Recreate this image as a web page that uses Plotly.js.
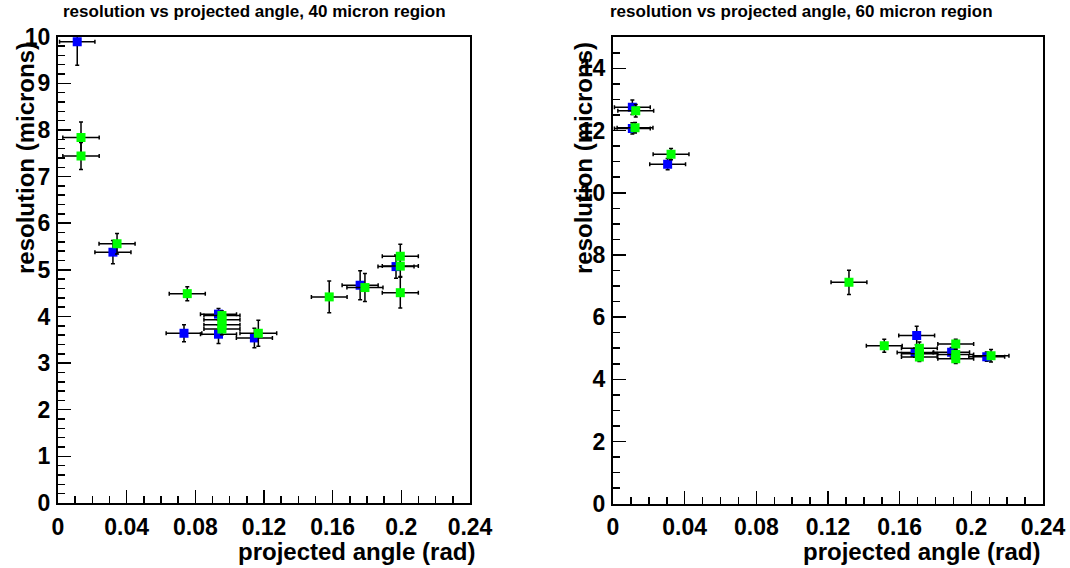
<!DOCTYPE html>
<html>
<head>
<meta charset="utf-8">
<script src="https://cdn.plot.ly/plotly-3.0.1.min.js"></script>
<style>html,body{margin:0;padding:0;background:#fff;}#chart{width:1070px;height:568px;}</style>
</head>
<body>
<div id="chart"></div>
<script>
// ---- data: left panel (40 micron region) ----
var leftBlueX  = [0.0112, 0.032, 0.0734, 0.0935, 0.0935, 0.1144, 0.176, 0.1969];
var leftBlueY  = [9.89, 5.38, 3.64, 4.05, 3.62, 3.54, 4.67, 5.07];
var leftBlueEX = [0.0103, 0.0105, 0.0104, 0.0105, 0.0105, 0.0105, 0.0105, 0.0105];
var leftBlueEY = [0.5, 0.25, 0.18, 0.12, 0.2, 0.21, 0.31, 0.25];

var leftGreenX  = [0.0134, 0.0134, 0.0344, 0.0753, 0.0955, 0.0955, 0.0955, 0.0955, 0.1167, 0.158, 0.1788, 0.1994, 0.1994, 0.1994];
var leftGreenY  = [7.84, 7.44, 5.56, 4.49, 4.02, 3.93, 3.82, 3.73, 3.64, 4.42, 4.62, 5.29, 5.08, 4.51];
var leftGreenEX = [0.0106, 0.0106, 0.0105, 0.0105, 0.0105, 0.0105, 0.0105, 0.0105, 0.0107, 0.0104, 0.0105, 0.0105, 0.0105, 0.0105];
var leftGreenEY = [0.33, 0.29, 0.22, 0.15, 0.1, 0.1, 0.1, 0.12, 0.28, 0.34, 0.3, 0.26, 0.22, 0.33];

// ---- data: right panel (60 micron region) ----
var rightBlueX  = [0.0108, 0.0108, 0.0305, 0.1695, 0.1686, 0.189, 0.2086];
var rightBlueY  = [12.75, 12.07, 10.92, 5.41, 4.86, 4.87, 4.73];
var rightBlueEX = [0.01, 0.01, 0.01, 0.01, 0.01, 0.01, 0.01];
var rightBlueEY = [0.23, 0.18, 0.18, 0.3, 0.15, 0.15, 0.15];

var rightGreenX  = [0.0127, 0.0123, 0.0324, 0.1317, 0.1514, 0.171, 0.171, 0.171, 0.1913, 0.1913, 0.1913, 0.211];
var rightGreenY  = [12.64, 12.09, 11.24, 7.12, 5.08, 5.0, 4.82, 4.72, 5.14, 4.8, 4.66, 4.76];
var rightGreenEX = [0.01, 0.01, 0.01, 0.01, 0.01, 0.01, 0.01, 0.01, 0.01, 0.01, 0.01, 0.01];
var rightGreenEY = [0.2, 0.17, 0.18, 0.39, 0.21, 0.2, 0.15, 0.15, 0.15, 0.15, 0.15, 0.2];

// ---- tick labels ----
var xTickVals = [0, 0.04, 0.08, 0.12, 0.16, 0.2, 0.24];
var xTickText = ["0", "0.04", "0.08", "0.12", "0.16", "0.2", "0.24"];
var leftYTickVals = [0,1,2,3,4,5,6,7,8,9,10];
var leftYTickText = ["0","1","2","3","4","5","6","7","8","9","10"];
var rightYTickVals = [0,2,4,6,8,10,12,14];
var rightYTickText = ["0","2","4","6","8","10","12","14"];

var titles = ["resolution vs projected angle, 40 micron region", "resolution vs projected angle, 60 micron region"];
var xTitle = "projected angle (rad)";
var yTitle = "resolution (microns)";

var FONT = "Liberation Sans, Arial, Helvetica, sans-serif";

function trace(x, y, ex, ey, color, xa, ya) {
  return {
    type: "scatter", mode: "markers", x: x, y: y,
    xaxis: xa, yaxis: ya,
    marker: {symbol: "square", size: 9, color: color},
    error_x: {type: "data", array: ex, visible: true, color: "#000", thickness: 1.5, width: 2},
    error_y: {type: "data", array: ey, visible: true, color: "#000", thickness: 1.5, width: 2},
    showlegend: false, cliponaxis: true
  };
}

var data = [
  trace(leftBlueX, leftBlueY, leftBlueEX, leftBlueEY, "#0000ff", "x", "y"),
  trace(leftGreenX, leftGreenY, leftGreenEX, leftGreenEY, "#00ff00", "x", "y"),
  trace(rightBlueX, rightBlueY, rightBlueEX, rightBlueEY, "#0000ff", "x2", "y2"),
  trace(rightGreenX, rightGreenY, rightGreenEX, rightGreenEY, "#00ff00", "x2", "y2")
];

function xaxis(domain, anchor) {
  return {
    domain: domain, anchor: anchor, range: [0, 0.24],
    tickvals: xTickVals, ticktext: xTickText,
    ticks: "inside", ticklen: 13, tickwidth: 1.5, tickcolor: "#000",
    minor: {dtick: 0.01, ticks: "inside", ticklen: 7, tickwidth: 1.5, tickcolor: "#000"},
    showline: true, linewidth: 2, linecolor: "#000", mirror: true,
    showgrid: false, zeroline: false,
    tickfont: {family: FONT, size: 23, color: "#000", weight: "bold"},
    ticklabelstandoff: 2
  };
}
function yaxis(domain, anchor, max, vals, text, minorStep) {
  return {
    domain: domain, anchor: anchor, range: [0, max],
    tickvals: vals, ticktext: text,
    ticks: "inside", ticklen: 13, tickwidth: 1.5, tickcolor: "#000",
    minor: {dtick: minorStep, ticks: "inside", ticklen: 7, tickwidth: 1.5, tickcolor: "#000"},
    showline: true, linewidth: 2, linecolor: "#000", mirror: true,
    showgrid: false, zeroline: false,
    tickfont: {family: FONT, size: 23, color: "#000", weight: "bold"},
    ticklabelstandoff: 1
  };
}

var W = 1070, H = 568;
function px(v) { return v / W; }
function py(v) { return 1 - v / H; }

var layout = {
  width: W, height: H,
  margin: {l: 0, r: 0, t: 0, b: 0},
  paper_bgcolor: "#fff", plot_bgcolor: "#fff",
  showlegend: false,
  xaxis: xaxis([px(58), px(470)], "y"),
  yaxis: yaxis([py(503), py(36.7)], "x", 10, leftYTickVals, leftYTickText, 0.2),
  xaxis2: xaxis([px(613), px(1043)], "y2"),
  yaxis2: yaxis([py(503.7), py(37.3)], "x2", 15, rightYTickVals, rightYTickText, 0.5),
  annotations: [
    {text: titles[0], xref: "paper", yref: "paper", x: px(254), y: py(11), xanchor: "center", yanchor: "middle", showarrow: false,
     font: {family: FONT, size: 17, color: "#000", weight: "bold"}},
    {text: titles[1], xref: "paper", yref: "paper", x: px(801), y: py(11), xanchor: "center", yanchor: "middle", showarrow: false,
     font: {family: FONT, size: 17, color: "#000", weight: "bold"}},
    {text: xTitle, xref: "paper", yref: "paper", x: px(477), y: py(551), xanchor: "right", yanchor: "middle", showarrow: false,
     font: {family: FONT, size: 24, color: "#000", weight: "bold"}},
    {text: xTitle, xref: "paper", yref: "paper", x: px(1042), y: py(551), xanchor: "right", yanchor: "middle", showarrow: false,
     font: {family: FONT, size: 24, color: "#000", weight: "bold"}},
    {text: yTitle, xref: "paper", yref: "paper", x: px(25), y: py(40), xanchor: "center", yanchor: "top", textangle: -90, showarrow: false,
     font: {family: FONT, size: 24, color: "#000", weight: "bold"}},
    {text: yTitle, xref: "paper", yref: "paper", x: px(583), y: py(40), xanchor: "center", yanchor: "top", textangle: -90, showarrow: false,
     font: {family: FONT, size: 24, color: "#000", weight: "bold"}}
  ]
};

Plotly.newPlot("chart", data, layout, {displayModeBar: false, staticPlot: true});
</script>
</body>
</html>
